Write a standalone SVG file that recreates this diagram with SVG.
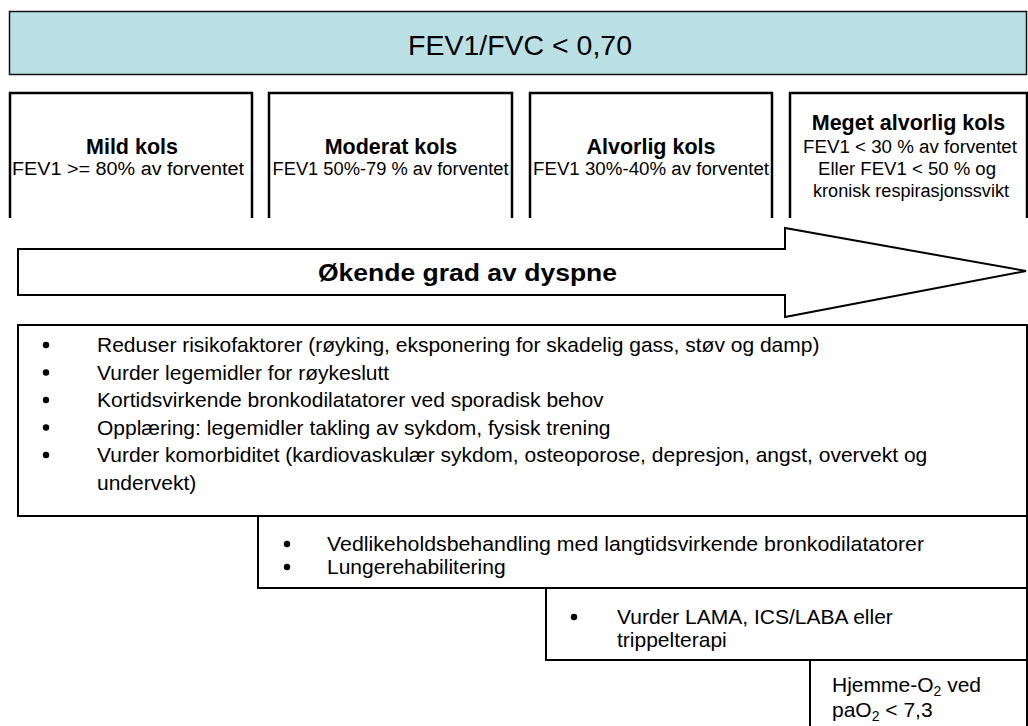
<svg xmlns="http://www.w3.org/2000/svg" width="1028" height="726" viewBox="0 0 1028 726">
<style>
.t{font-family:"Liberation Sans",Arial,sans-serif;fill:#000}
.box{fill:#fff;stroke:#000;stroke-width:2}
.open{fill:none;stroke:#000;stroke-width:2.5}
.title{font-size:21.5px;font-weight:bold;text-anchor:middle}
.sub{font-size:18px;text-anchor:middle}
.li{font-size:21px}
</style>
<rect width="1028" height="726" fill="#fff"/>
<g id="header">
<rect x="9.5" y="11.5" width="1017" height="63" fill="#bbe0e3" stroke="#111" stroke-width="1.5"/>
<text class="t" x="520" y="55" font-size="28.5" text-anchor="middle" textLength="224" lengthAdjust="spacingAndGlyphs">FEV1/FVC &lt; 0,70</text>
</g>
<g id="mild">
<path class="open" d="M10,218 V93 H252 V218"/>
<text class="t title" x="132" y="154">Mild kols</text>
<text class="t sub" x="128" y="175" textLength="232" lengthAdjust="spacingAndGlyphs">FEV1 &gt;= 80%  av forventet</text>
</g>
<g id="moderat">
<path class="open" d="M269,218 V93 H512 V218"/>
<text class="t title" x="391" y="154">Moderat kols</text>
<text class="t sub" x="390.5" y="175" textLength="236" lengthAdjust="spacingAndGlyphs">FEV1 50%-79 % av forventet</text>
</g>
<g id="alvorlig">
<path class="open" d="M530,218 V93 H772 V218"/>
<text class="t title" x="651" y="154">Alvorlig kols</text>
<text class="t sub" x="651" y="175" textLength="236" lengthAdjust="spacingAndGlyphs">FEV1 30%-40% av forventet</text>
</g>
<g id="meget">
<path class="open" d="M790,218 V93 H1027 V218"/>
<text class="t title" x="908.5" y="130">Meget alvorlig kols</text>
<text class="t sub" x="910" y="153" textLength="214" lengthAdjust="spacingAndGlyphs">FEV1 &lt; 30 % av forventet</text>
<text class="t sub" x="907" y="175" textLength="178" lengthAdjust="spacingAndGlyphs">Eller FEV1 &lt; 50 % og</text>
<text class="t sub" x="911" y="197" textLength="196" lengthAdjust="spacingAndGlyphs">kronisk respirasjonssvikt</text>
</g>
<g id="connectors">
<g id="arrow">
<polygon points="18,249 785,249 785,228 1026,271 785,317 785,295 18,295" fill="#fff" stroke="#000" stroke-width="2"/>
<text class="t" x="318" y="281" font-size="23.5" font-weight="bold" textLength="299" lengthAdjust="spacingAndGlyphs">Økende grad av dyspne</text>
</g>
</g>
<g id="tiltak1">
<rect class="box" x="18" y="325" width="1009" height="191"/>
<g class="t li">
<circle cx="46" cy="345" r="3.2"/><text x="97" y="352">Reduser risikofaktorer (røyking, eksponering for skadelig gass, støv og damp)</text>
<circle cx="46" cy="372.5" r="3.2"/><text x="97" y="379.5">Vurder legemidler for røykeslutt</text>
<circle cx="46" cy="400" r="3.2"/><text x="97" y="407">Kortidsvirkende bronkodilatatorer ved sporadisk behov</text>
<circle cx="46" cy="427.5" r="3.2"/><text x="97" y="434.5">Opplæring: legemidler takling av sykdom, fysisk trening</text>
<circle cx="46" cy="455" r="3.2"/><text x="97" y="462">Vurder komorbiditet (kardiovaskulær sykdom, osteoporose, depresjon, angst, overvekt og</text>
<text x="97" y="489.5">undervekt)</text>
</g>
</g>
<g id="tiltak2">
<rect class="box" x="258" y="516" width="769" height="72"/>
<g class="t li">
<circle cx="287" cy="544" r="3.2"/><text x="327" y="551" textLength="597" lengthAdjust="spacingAndGlyphs">Vedlikeholdsbehandling med langtidsvirkende bronkodilatatorer</text>
<circle cx="287" cy="567" r="3.2"/><text x="327" y="574">Lungerehabilitering</text>
</g>
</g>
<g id="tiltak3">
<rect class="box" x="546" y="588" width="481" height="72"/>
<g class="t li">
<circle cx="574" cy="617" r="3.2"/><text x="617" y="624">Vurder LAMA, ICS/LABA eller</text>
<text x="617" y="647">trippelterapi</text>
</g>
</g>
<g id="tiltak4">
<rect class="box" x="810" y="660" width="217" height="80"/>
<g class="t li">
<text x="832" y="692">Hjemme-O<tspan font-size="14" dy="4">2</tspan><tspan dy="-4"> ved</tspan></text>
<text x="832" y="717">paO<tspan font-size="14" dy="4">2</tspan><tspan dy="-4"> &lt; 7,3</tspan></text>
</g>
</g>
</svg>
